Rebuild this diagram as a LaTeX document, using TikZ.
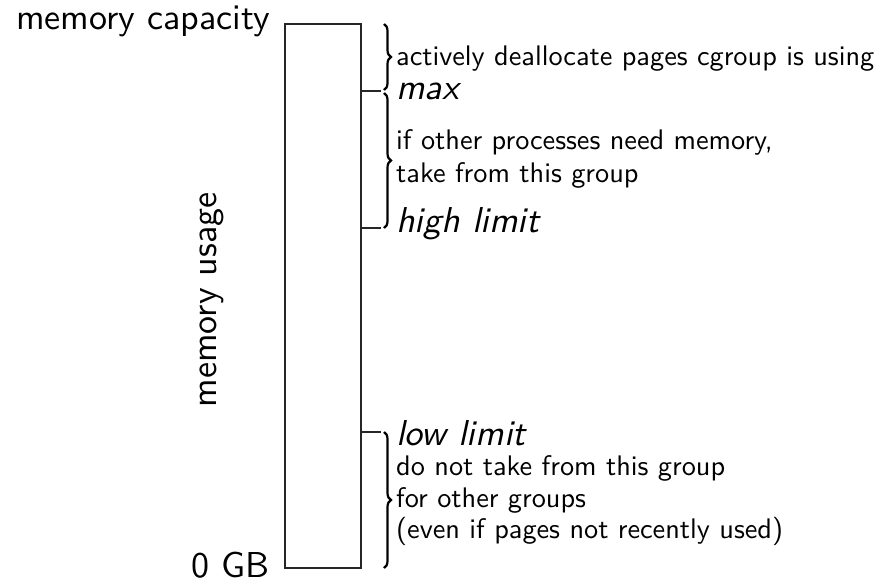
\documentclass[tikz,border=0pt]{standalone}
\usepackage{fontspec}
% Latin Modern Sans in its 10pt design at every size
\setsansfont{lmsans10-regular.otf}[ItalicFont=lmsans10-oblique.otf, BoldFont=lmsans10-bold.otf]
\usetikzlibrary{decorations.pathreplacing}
\begin{document}
\begin{tikzpicture}[x=1pt,y=-1pt,
  big/.style={font=\sffamily\fontsize{36}{40}\selectfont, inner sep=0pt},
  bigit/.style={font=\sffamily\itshape\fontsize{36}{40}\selectfont, inner sep=0pt, anchor=base west},
  small/.style={font=\sffamily\fontsize{28.3}{32}\selectfont, inner sep=0pt, anchor=base west},
  bar/.style={draw=black!85, line width=1.3pt, minimum width=76pt, minimum height=544pt, inner sep=0pt},
  tick/.style={draw=black!85, line width=1.3pt},
  curly/.style={decorate, decoration={brace, amplitude=7pt}, line width=2.2pt}]
\useasboundingbox (0,0) rectangle (879,582);

% the memory column
\node[bar] (col) at (323,296) {};

% limit levels marked on the column
\coordinate (maxL) at (361,91);
\coordinate (maxR) at (381,91);
\coordinate (highL) at (361,228);
\coordinate (highR) at (381,228);
\coordinate (lowL) at (361,432);
\coordinate (lowR) at (381,432);
\draw[tick] (maxL) -- (maxR);
\draw[tick] (highL) -- (highR);
\draw[tick] (lowL) -- (lowR);

% braces grouping the ranges
\coordinate (b1t) at (384,24);
\coordinate (b1b) at (384,90);
\coordinate (b2t) at (384,93);
\coordinate (b2b) at (384,228);
\coordinate (b3t) at (384,432);
\coordinate (b3b) at (384,568);
\draw[curly] (b1t) -- (b1b);
\draw[curly] (b2t) -- (b2b);
\draw[curly] (b3t) -- (b3b);

% axis labels
\node[big, anchor=base east] (cap) at (270,29) {memory capacity};
\node[big, anchor=base east] (zero) at (270,577) {0 GB};
\node[big, anchor=base, rotate=90] (usage) at (216,300) {memory usage};

% range descriptions
\node[small] (t1) at (396,65) {actively deallocate pages cgroup is using};
\node[bigit] (max) at (396,99) {max};
\node[small] (t2) at (396,149) {if other processes need memory,};
\node[small] (t3) at (396,182) {take from this group};
\node[bigit] (high) at (396,232) {high limit};
\node[bigit] (low) at (396,445) {low limit};
\node[small] (t4) at (396,475) {do not take from this group};
\node[small] (t5) at (396,507) {for other groups};
\node[small] (t6) at (396,538) {(even if pages not recently used)};
\end{tikzpicture}
\end{document}
